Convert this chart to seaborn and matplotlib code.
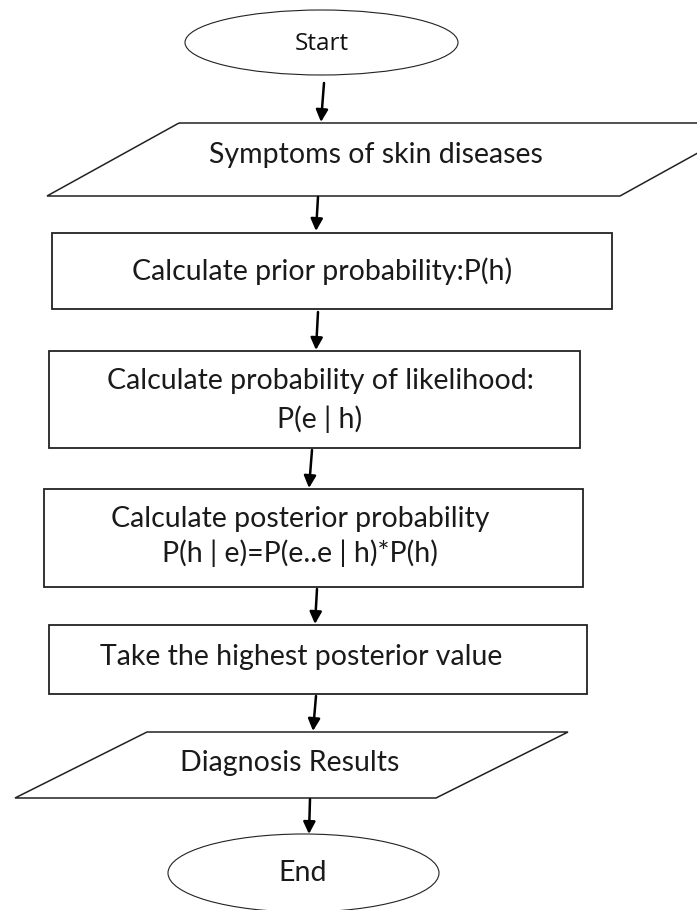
import matplotlib
matplotlib.use("Agg")
import matplotlib.pyplot as plt
import seaborn as sns
from matplotlib.patches import Ellipse, Rectangle, Polygon

sns.set_theme(style="white")
plt.rcParams["font.family"] = ["Lato", "DejaVu Sans"]

# flowchart steps (text shown in each node)
labels = [
    "Start",
    "Symptoms of skin diseases",
    "Calculate prior probability:P(h)",
    "Calculate probability of likelihood:\nP(e | h)",
    "Calculate posterior probability\nP(h | e)=P(e..e | h)*P(h)",
    "Take the highest posterior value",
    "Diagnosis Results",
    "End",
]
kinds = ["ellipse", "para", "rect", "rect", "rect", "rect", "para", "ellipse"]

# node geometry in pixels: (left, top, right, bottom), slant for parallelograms
boxes = [
    (185, 10, 458, 75),
    (47, 123, 752, 196),
    (52, 233, 612, 309),
    (49, 351, 580, 448),
    (44, 489, 583, 587),
    (49, 625, 587, 694),
    (15, 732, 568, 798),
    (168, 834, 439, 912),
]
slant = 132
text_pos = [(322, 44), (376, 155), (322, 271), (320, 400), (300, 536), (301, 657), (290, 763), (303, 873)]
line_gap = [0, 0, 0, 39, 34, 0, 0, 0]

# connector arrows (from, to)
arrows = [
    ((324, 83), (321, 122)),
    ((318, 197), (316, 231)),
    ((318, 312), (316, 350)),
    ((312, 450), (309, 488)),
    ((317, 589), (315, 624)),
    ((316, 696), (313, 731)),
    ((310, 799), (309, 834)),
]

fig = plt.figure(figsize=(6.97, 9.10), dpi=100)
ax = fig.add_axes([0, 0, 1, 1])
ax.set_xlim(0, 697)
ax.set_ylim(910, 0)
ax.axis("off")

for kind, (l, t, r, b) in zip(kinds, boxes):
    if kind == "ellipse":
        p = Ellipse(((l + r) / 2, (t + b) / 2), r - l, b - t, fill=False, ec="#222222", lw=0.8)
    elif kind == "rect":
        p = Rectangle((l, t), r - l, b - t, fill=False, ec="#222222", lw=1.3)
    else:
        p = Polygon([(l + slant, t), (r, t), (r - slant, b), (l, b)], closed=True,
                    fill=False, ec="#222222", lw=1.1)
    ax.add_patch(p)

for i, txt in enumerate(labels):
    x, y = text_pos[i]
    parts = txt.split("\n")
    n = len(parts)
    for k, line in enumerate(parts):
        yy = y + (k - (n - 1) / 2) * line_gap[i]
        if txt == "Start":
            ax.text(x, yy, line, ha="center", va="center", fontsize=17.5,
                    family=["Open Sans", "DejaVu Sans"], color="#111111")
        else:
            ax.text(x, yy, line, ha="center", va="center", fontsize=20.5,
                    family=["Lato", "DejaVu Sans"], color="#1a1a1a")

for (x0, y0), (x1, y1) in arrows:
    ax.annotate("", xy=(x1, y1), xytext=(x0, y0),
                arrowprops=dict(arrowstyle="-|>", color="black", lw=1.8,
                                mutation_scale=18, shrinkA=0, shrinkB=0))

fig.savefig("out.png", dpi=100)
